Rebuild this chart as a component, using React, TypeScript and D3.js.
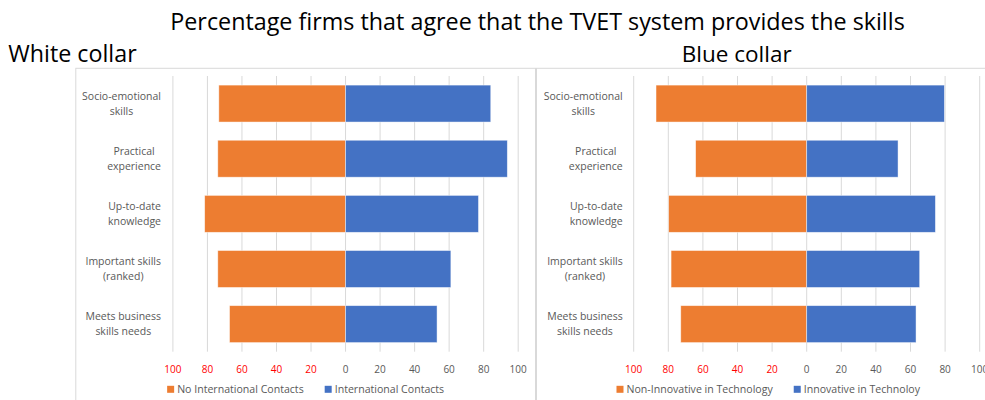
import React from "react";
import * as d3 from "d3";

const categories = [
  ["Socio-emotional", "skills"],
  ["Practical", "experience"],
  ["Up-to-date", "knowledge"],
  ["Important skills", "(ranked)"],
  ["Meets business", "skills needs"],
];
const categoryKeys = categories.map((c) => c.join(" "));

const whiteNoIntl = [73.4, 74, 81.6, 74, 67.2];
const whiteIntl = [84.1, 93.7, 77, 61, 53];
const blueNonInnov = [87.1, 64.2, 79.8, 78.4, 72.8];
const blueInnov = [79.6, 52.8, 74.4, 65.3, 63.2];

const tickValues = [-100, -80, -60, -40, -20, 0, 20, 40, 60, 80, 100];

const TITLE = "Percentage firms that agree that the TVET system provides the skills";
const ORANGE = "#ED7D31";
const BLUE = "#4472C4";
const GRAY = "#595959";
const GRID = "#D9D9D9";
const FONT = "'Open Sans', sans-serif";

const canvas = typeof document !== "undefined" ? document.createElement("canvas") : null;
const ctx = canvas ? canvas.getContext("2d") : null;
function measure(text: string, size: number) {
  if (!ctx) return text.length * size * 0.5;
  ctx.font = `${size}px 'Open Sans'`;
  return ctx.measureText(text).width;
}
function fit(text: string, target: number) {
  return (target / measure(text, 100)) * 100;
}

type PanelProps = {
  subtitle: string;
  subtitleX: number;
  subtitleW: number;
  frameX0: number;
  frameX1: number;
  xRange: [number, number];
  labelRight: number;
  left: number[];
  right: number[];
  leftName: string;
  rightName: string;
};

function Panel(p: PanelProps) {
  const x = d3.scaleLinear().domain([-100, 100]).range(p.xRange);
  const y = d3
    .scaleBand<string>()
    .domain(categoryKeys)
    .range([76, 351.7])
    .paddingInner(0.33)
    .paddingOuter(0.165);
  const labelSize = fit("Socio-emotional", 79);
  const tickSize = 10;
  const legendSize = fit("No International Contacts", 126.6);
  const subSize = fit(p.subtitle, p.subtitleW);

  const leg1W = 7 + 3 + measure(p.leftName, legendSize);
  const leg2W = 7 + 3 + measure(p.rightName, legendSize);
  const legTotal = leg1W + 21 + leg2W;
  const legX0 = (p.frameX0 + p.frameX1) / 2 - legTotal / 2;
  const legY = 389.3;

  return (
    <g>
      <text x={p.subtitleX} y={61.7} fontSize={subSize} fontFamily={FONT} fill="#000">
        {p.subtitle}
      </text>
      <rect
        x={p.frameX0}
        y={68.3}
        width={p.frameX1 - p.frameX0}
        height={400}
        fill="none"
        stroke={GRID}
        strokeWidth={1}
      />
      {tickValues.map((t) => (
        <line
          key={"g" + t}
          x1={x(t)}
          x2={x(t)}
          y1={76}
          y2={351.7}
          stroke={GRID}
          strokeWidth={1}
        />
      ))}
      {categoryKeys.map((k, i) => (
        <g key={k}>
          <rect
            x={x(-p.left[i])}
            y={y(k)}
            width={x(0) - x(-p.left[i])}
            height={y.bandwidth()}
            fill={ORANGE}
            stroke="#fff"
            strokeOpacity={0.6}
            strokeWidth={0.75}
          />
          <rect
            x={x(0)}
            y={y(k)}
            width={x(p.right[i]) - x(0)}
            height={y.bandwidth()}
            fill={BLUE}
            stroke="#fff"
            strokeOpacity={0.6}
            strokeWidth={0.75}
          />
        </g>
      ))}
      {categories.map((lines, i) => {
        const k = categoryKeys[i];
        const cy = (y(k) as number) + y.bandwidth() / 2;
        const bw = Math.max(...lines.map((l) => measure(l, labelSize)));
        const cx = p.labelRight - bw / 2;
        return (
          <text
            key={"l" + k}
            fontSize={labelSize}
            fontFamily={FONT}
            fill={GRAY}
            textAnchor="middle"
          >
            {lines.map((l, j) => (
              <tspan key={j} x={cx} y={cy + (j - (lines.length - 1) / 2) * 15 + 3.6}>
                {l}
              </tspan>
            ))}
          </text>
        );
      })}
      {tickValues.map((t) => (
        <text
          key={"t" + t}
          x={x(t)}
          y={369.3 + 3.6}
          textAnchor="middle"
          fontSize={tickSize}
          fontFamily={FONT}
          fill={t < 0 ? "#FF0000" : GRAY}
        >
          {Math.abs(t)}
        </text>
      ))}
      <rect x={legX0} y={legY - 3.5} width={7} height={7} fill={ORANGE} />
      <text x={legX0 + 10} y={legY + 3.4} fontSize={legendSize} fontFamily={FONT} fill={GRAY}>
        {p.leftName}
      </text>
      <rect x={legX0 + leg1W + 21} y={legY - 3.5} width={7} height={7} fill={BLUE} />
      <text
        x={legX0 + leg1W + 21 + 10}
        y={legY + 3.4}
        fontSize={legendSize}
        fontFamily={FONT}
        fill={GRAY}
      >
        {p.rightName}
      </text>
    </g>
  );
}

export default function App() {
  const titleSize = fit(TITLE, 735);
  return (
    <svg
      width={985}
      height={400}
      style={{ position: "absolute", left: 0, top: 0, background: "#fff" }}
    >
      <rect x={0} y={0} width={985} height={400} fill="#fff" />
      <text
        x={537.5}
        y={30}
        textAnchor="middle"
        fontSize={titleSize}
        fontFamily={FONT}
        fill="#000"
      >
        {TITLE}
      </text>
      <Panel
        subtitle="White collar"
        subtitleX={8.3}
        subtitleW={128.4}
        frameX0={75.8}
        frameX1={535.5}
        xRange={[172.9, 518.2]}
        labelRight={161}
        left={whiteNoIntl}
        right={whiteIntl}
        leftName="No International Contacts"
        rightName="International Contacts"
      />
      <Panel
        subtitle="Blue collar"
        subtitleX={681.7}
        subtitleW={110}
        frameX0={536.5}
        frameX1={1000}
        xRange={[633.7, 979.7]}
        labelRight={622.7}
        left={blueNonInnov}
        right={blueInnov}
        leftName="Non-Innovative in Technology"
        rightName="Innovative in Technoloy"
      />
    </svg>
  );
}
